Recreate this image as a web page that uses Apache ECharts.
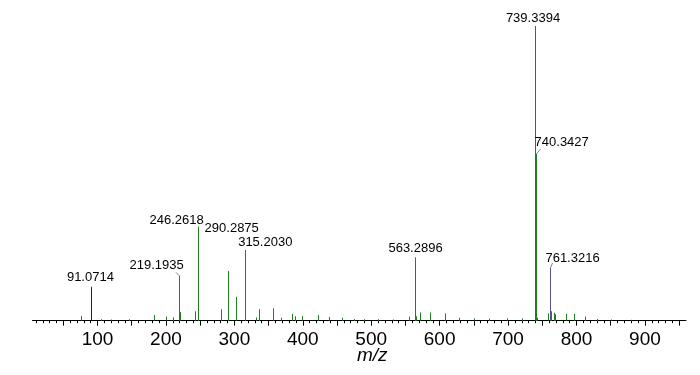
<!DOCTYPE html>
<html><head><meta charset="utf-8">
<script src="https://cdn.jsdelivr.net/npm/echarts@6/dist/echarts.min.js"></script>
<style>html,body{margin:0;padding:0;background:#fff}#c{width:700px;height:375px}</style>
</head><body><div id="c"></div>
<script>
// ---- data ----
const greenMz  = [75.5, 104.8, 119, 146, 182.7, 200, 210.5, 219.1935, 220.2, 242.2, 246.2618, 247.27, 280.2, 290.2875, 291.29, 302.2, 315.2030, 316.2, 331.4, 335.3, 356.7, 368, 384, 389, 398.6, 421.5, 438.6, 458, 475, 490, 510, 532, 554.5, 563.2896, 564.29, 565.3, 571, 585.8, 607.7, 628.7, 650.6, 672.5, 699, 720.8, 739.3394, 740.3427, 741.34, 742.3, 759, 762.3, 766.6, 768.6, 784.6, 796.8, 812, 830, 850, 880];
const greenInt = [1.6, 0.5, 0.4, 0.5, 1.9, 1.4, 1.1, 15.2, 2.9, 3.2, 31.9, 5.9, 3.9, 16.9, 3.6, 8.1, 24.0, 6.2, 1.1, 3.9, 4.2, 1.0, 2.3, 1.5, 1.6, 1.9, 1.3, 1.0, 0.6, 0.5, 0.5, 0.4, 1.4, 21.5, 9.3, 1.5, 2.8, 2.8, 2.5, 1.0, 0.8, 0.7, 0.8, 0.8, 100, 56.6, 4.7, 1.0, 2.5, 3.2, 2.7, 2.2, 2.3, 2.3, 1.4, 0.6, 0.4, 0.3];
const darkMz  = [91.0714];
const darkInt = [11.5];
const blueMz  = [761.3216];
const blueInt = [17.9];
const labelMz   = [91.0714, 219.1935, 246.2618, 290.2875, 315.2030, 563.2896, 739.3394, 740.3427, 761.3216];
const labelInt  = [11.5, 15.2, 31.9, 16.9, 24.0, 21.5, 100, 56.6, 17.9];
const labelText = ['91.0714', '219.1935', '246.2618', '290.2875', '315.2030', '563.2896', '739.3394', '740.3427', '761.3216'];
const tickLabels = [100, 200, 300, 400, 500, 600, 700, 800, 900];
const majorTicks = [50, 100, 150, 200, 250, 300, 350, 400, 450, 500, 550, 600, 650, 700, 750, 800, 850, 900, 950];
const minorTicks = [10, 20, 30, 40, 60, 70, 80, 90, 110, 120, 130, 140, 160, 170, 180, 190, 210, 220, 230, 240, 260, 270, 280, 290, 310, 320, 330, 340, 360, 370, 380, 390, 410, 420, 430, 440, 460, 470, 480, 490, 510, 520, 530, 540, 560, 570, 580, 590, 610, 620, 630, 640, 660, 670, 680, 690, 710, 720, 730, 740, 760, 770, 780, 790, 810, 820, 830, 840, 860, 870, 880, 890, 910, 920, 930, 940];

// ---- label layout (style only): [dx, dy, leaderDx, leaderDy] relative to peak top ----
const labelLayout = [[-1, -9, 0, 0], [-22.5, -10, -3.5, -3.5], [-21, -6, 0, 0], [4, -42, 0, 0], [20.5, -8, 0, 0], [1, -9, 0, 0], [-2, -8, 0, 0], [26, -11, 4, -5], [22.5, -10, 2, -5]];

const FONT = '"Liberation Sans", Arial, sans-serif';

function stickSeries(mz, inten, color) {
  return {
    type: 'custom', xAxisIndex: 0, yAxisIndex: 0, silent: true, animation: false, clip: false,
    data: mz.map((m, i) => [m, inten[i]]),
    renderItem: (params, api) => {
      const p0 = api.coord([api.value(0), 0]);
      const p1 = api.coord([api.value(0), api.value(1)]);
      const x = Math.round(p0[0]) + 0.5;
      return { type: 'line', shape: { x1: x, y1: p0[1], x2: x, y2: p1[1] }, style: { stroke: color, lineWidth: 1 } };
    }
  };
}

const labelSeries = {
  type: 'custom', xAxisIndex: 0, yAxisIndex: 0, silent: true, animation: false, clip: false, z: 5,
  data: labelMz.map((m, i) => [m, labelInt[i], i]),
  renderItem: (params, api) => {
    const i = api.value(2);
    const p = api.coord([api.value(0), api.value(1)]);
    const L = labelLayout[i];
    const children = [{
      type: 'text',
      style: { text: labelText[i], x: p[0] + L[0], y: p[1] + L[1], align: 'center', verticalAlign: 'middle',
               fontSize: 13, fontFamily: FONT, fill: '#000' }
    }];
    if (L[2] || L[3]) {
      const x = Math.round(p[0]) + 0.5;
      children.push({ type: 'line', shape: { x1: x, y1: p[1], x2: x + L[2], y2: p[1] + L[3] },
                      style: { stroke: '#666', lineWidth: 0.8 } });
    }
    return { type: 'group', children };
  }
};

const chart = echarts.init(document.getElementById('c'), null, { renderer: 'canvas' });
chart.setOption({
  backgroundColor: '#fff',
  animation: false,
  title: { text: 'm/z', left: 357, top: 346, padding: 0,
           textStyle: { fontSize: 19, fontStyle: 'italic', fontWeight: 'normal', fontFamily: FONT, color: '#000' } },
  grid: { left: 32.5, right: 14, top: 26, bottom: 54.3, containLabel: false },
  xAxis: [
    { type: 'value', min: 5, max: 960, position: 'bottom',
      axisLine: { show: true, onZero: false, lineStyle: { color: '#000', width: 1 } },
      axisTick: { show: true, customValues: majorTicks, length: 5, lineStyle: { color: '#000', width: 1 } },
      axisLabel: { show: true, customValues: tickLabels, margin: 10, fontSize: 19, fontFamily: FONT, color: '#000' },
      splitLine: { show: false } },
    { type: 'value', min: 5, max: 960, position: 'bottom',
      axisLine: { show: false, onZero: false },
      axisTick: { show: true, customValues: minorTicks, length: 2.5, lineStyle: { color: '#000', width: 1 } },
      axisLabel: { show: false },
      splitLine: { show: false } }
  ],
  yAxis: { type: 'value', min: 0, max: 100, show: false },
  series: [
    stickSeries(greenMz, greenInt, '#1f801f'),
    stickSeries(darkMz, darkInt, '#222222'),
    stickSeries(blueMz, blueInt, '#55558a'),
    labelSeries
  ]
});
</script>
</body></html>
